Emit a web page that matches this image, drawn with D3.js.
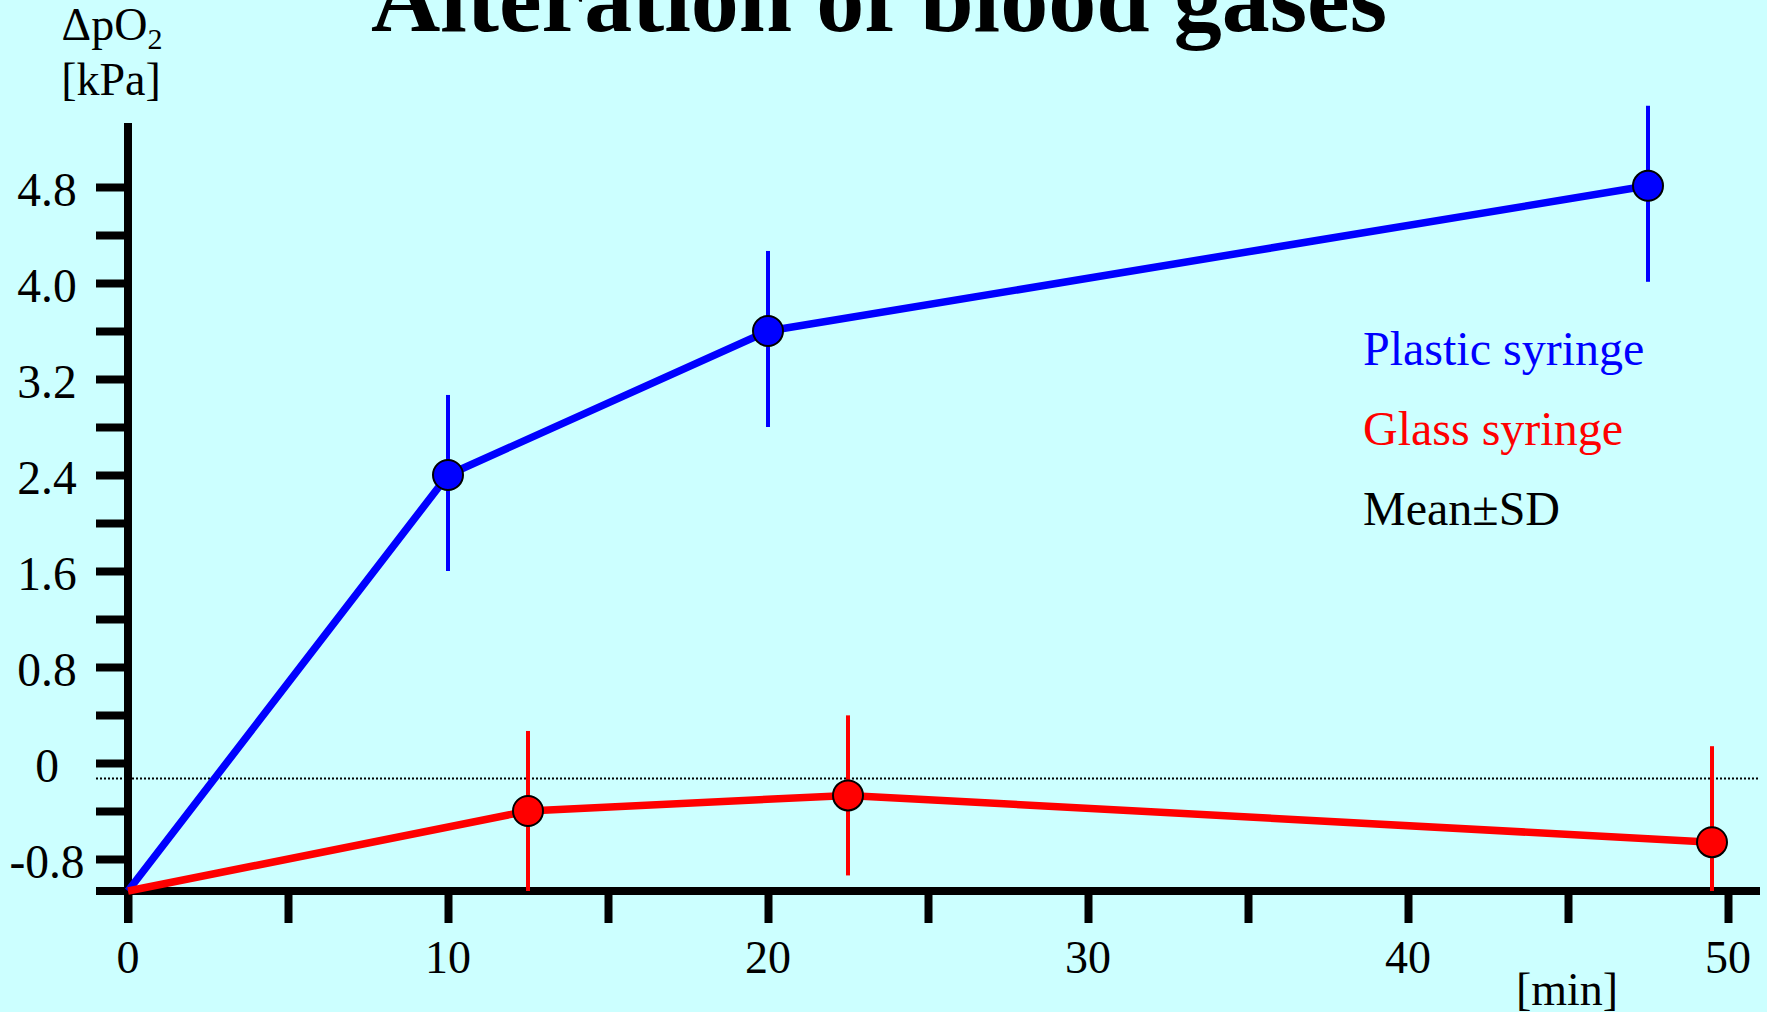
<!DOCTYPE html>
<html>
<head>
<meta charset="utf-8">
<script src="https://cdn.jsdelivr.net/npm/d3@7"></script>
<style>
  html, body { margin: 0; padding: 0; background: #ccffff; overflow: hidden; }
  svg { display: block; }
  text { font-family: "Liberation Serif", "Times New Roman", serif; }
</style>
</head>
<body>
<svg id="chart" width="1767" height="1012"></svg>
<script>
// ---- data ----
const plasticTime = [0, 10, 20, 47.5];
const plasticMean = [-1.067, 2.4, 3.6, 4.81];
const plasticErrUp = [0, 0.667, 0.667, 0.667];
const plasticErrDown = [0, 0.8, 0.8, 0.8];

const glassTime = [0, 12.5, 22.5, 49.5];
const glassMean = [-1.067, -0.4, -0.27, -0.66];
const glassErrUp = [0, 0.667, 0.667, 0.8];
const glassErrDown = [0, 0.667, 0.667, 0.8];

const yTickValues = [-0.8, -0.4, 0, 0.4, 0.8, 1.2, 1.6, 2.0, 2.4, 2.8, 3.2, 3.6, 4.0, 4.4, 4.8];
const yTickLabels = ["-0.8", "0", "0.8", "1.6", "2.4", "3.2", "4.0", "4.8"];
const xTickValues = [0, 5, 10, 15, 20, 25, 30, 35, 40, 45, 50];
const xTickLabels = ["0", "10", "20", "30", "40", "50"];
const referenceLevel = -0.13;

const legendItems = [
  { label: "Plastic syringe", color: "#0000ff" },
  { label: "Glass syringe", color: "#ff0000" },
  { label: "Mean\u00b1SD", color: "#000000" }
];

// ---- scales ----
const svg = d3.select("#chart");
const x = d3.scaleLinear().domain([0, 50]).range([128, 1728]);
const y = d3.scaleLinear().domain([-1.0667, 5.3333]).range([891, 123]);
const yMin = y.domain()[0];

// title
svg.append("text")
  .attr("x", 879).attr("y", 31)
  .attr("text-anchor", "middle")
  .attr("font-size", 96).attr("font-weight", "bold")
  .text("Alteration of blood gases");

// y label
const yl = svg.append("text").attr("x", 112).attr("y", 40)
  .attr("text-anchor", "middle").attr("font-size", 46);
yl.append("tspan").text("\u0394pO");
yl.append("tspan").attr("font-size", 30).attr("dy", 9).text("2");
svg.append("text").attr("x", 111).attr("y", 95)
  .attr("text-anchor", "middle").attr("font-size", 46).text("[kPa]");

// dotted reference line
svg.append("line")
  .attr("x1", 96).attr("x2", 1758)
  .attr("y1", y(referenceLevel)).attr("y2", y(referenceLevel))
  .attr("stroke", "#000").attr("stroke-width", 2)
  .attr("stroke-dasharray", "2,2");

// y axis
const yAxis = d3.axisLeft(y).tickValues(yTickValues).tickSize(32).tickFormat("");
const gy = svg.append("g").attr("transform", `translate(${x(0)},0)`).call(yAxis);
gy.select(".domain").remove();
gy.selectAll(".tick line").attr("stroke", "#000").attr("stroke-width", 8);
svg.append("line").attr("x1", x(0)).attr("x2", x(0))
  .attr("y1", y.range()[1]).attr("y2", 923)
  .attr("stroke", "#000").attr("stroke-width", 8);
svg.selectAll(".ylab").data(yTickLabels).enter().append("text")
  .attr("class", "ylab")
  .attr("x", 47).attr("y", d => y(+d) + 19)
  .attr("text-anchor", "middle").attr("font-size", 47.5)
  .text(d => d);

// x axis
const xAxis = d3.axisBottom(x).tickValues(xTickValues).tickSize(32).tickFormat("");
const gx = svg.append("g").attr("transform", `translate(0,${y(yMin)})`).call(xAxis);
gx.select(".domain").remove();
gx.selectAll(".tick line").attr("stroke", "#000").attr("stroke-width", 8);
svg.append("line").attr("x1", 96).attr("x2", 1760)
  .attr("y1", y(yMin)).attr("y2", y(yMin))
  .attr("stroke", "#000").attr("stroke-width", 8);
svg.selectAll(".xlab").data(xTickLabels).enter().append("text")
  .attr("class", "xlab")
  .attr("x", d => x(+d)).attr("y", 973)
  .attr("text-anchor", "middle").attr("font-size", 46)
  .text(d => d);
svg.append("text").attr("x", 1567).attr("y", 1005)
  .attr("text-anchor", "middle").attr("font-size", 46).text("[min]");

// series
function drawSeries(times, means, up, down, color) {
  const pts = times.map((t, i) => ({ t, m: means[i], u: up[i], d: down[i] }));
  const line = d3.line().x(d => x(d.t)).y(d => y(d.m));
  svg.append("path").datum(pts).attr("d", line)
    .attr("fill", "none").attr("stroke", color).attr("stroke-width", 7.5)
    .attr("stroke-linejoin", "round");
  const marked = pts.slice(1);
  svg.selectAll(null).data(marked).enter().append("line")
    .attr("x1", d => x(d.t)).attr("x2", d => x(d.t))
    .attr("y1", d => y(d.m + d.u))
    .attr("y2", d => y(Math.max(yMin, d.m - d.d)))
    .attr("stroke", color).attr("stroke-width", 4);
  svg.selectAll(null).data(marked).enter().append("circle")
    .attr("cx", d => x(d.t)).attr("cy", d => y(d.m)).attr("r", 15)
    .attr("fill", color).attr("stroke", "#000").attr("stroke-width", 2);
}
drawSeries(plasticTime, plasticMean, plasticErrUp, plasticErrDown, "#0000ff");
drawSeries(glassTime, glassMean, glassErrUp, glassErrDown, "#ff0000");

// legend
svg.selectAll(".leg").data(legendItems).enter().append("text")
  .attr("class", "leg")
  .attr("x", 1363).attr("y", (d, i) => 365 + i * 80)
  .attr("font-size", 48).attr("fill", d => d.color)
  .text(d => d.label);
</script>
</body>
</html>
